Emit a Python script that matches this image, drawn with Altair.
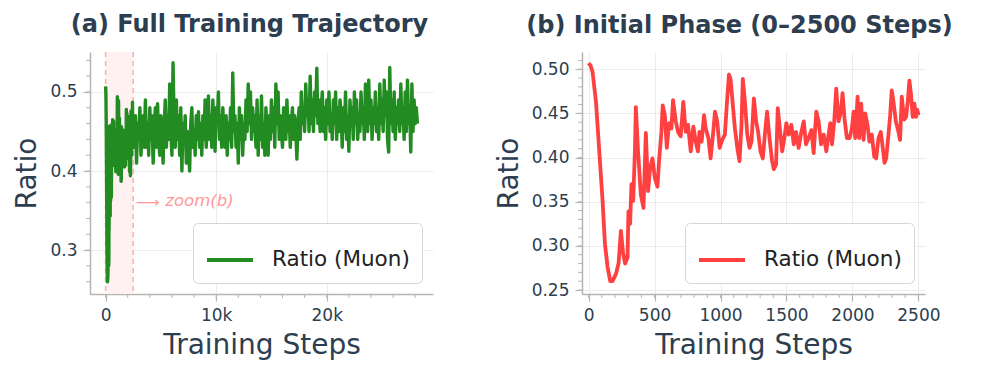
import altair as alt
import pandas as pd

# ---------------- data ----------------
series_name = "Ratio (Muon)"

# Panel (b): initial phase, 0-2500 steps
steps_b = [
    0, 15, 30, 56, 81, 106, 124, 144, 164, 181,
    207, 227, 245, 262, 277, 295, 302, 315, 325, 338,
    351, 358, 375, 396, 416, 434, 451, 466, 484, 502,
    522, 534, 552, 562, 578, 593, 610, 628, 640, 661,
    678, 698, 718, 736, 754, 774, 794, 812, 829, 840,
    857, 875, 888, 908, 925, 943, 958, 975, 993, 1013,
    1033, 1051, 1064, 1076, 1089, 1109, 1127, 1144, 1159, 1169,
    1185, 1203, 1220, 1235, 1253, 1270, 1285, 1303, 1321, 1336,
    1353, 1371, 1391, 1404, 1421, 1434, 1447, 1467, 1484, 1499,
    1517, 1537, 1555, 1572, 1592, 1613, 1631, 1648, 1668, 1689,
    1706, 1726, 1744, 1762, 1782, 1802, 1819, 1832, 1845, 1862,
    1877, 1895, 1913, 1925, 1940, 1958, 1978, 1996, 2009, 2021,
    2039, 2051, 2066, 2084, 2097, 2114, 2129, 2147, 2165, 2180,
    2197, 2215, 2230, 2243, 2256, 2273, 2286, 2298, 2311, 2329,
    2349, 2361, 2374, 2392, 2407, 2419, 2432, 2444, 2457, 2470,
    2482, 2492, 2500,
]
ratio_b = [
    0.507, 0.504, 0.497, 0.463, 0.407, 0.351, 0.302, 0.276, 0.260, 0.260,
    0.268, 0.280, 0.317, 0.291, 0.280, 0.287, 0.339, 0.325, 0.370, 0.351,
    0.407, 0.457, 0.407, 0.358, 0.343, 0.428, 0.362, 0.388, 0.399, 0.377,
    0.367, 0.396, 0.429, 0.459, 0.448, 0.411, 0.439, 0.433, 0.465, 0.441,
    0.429, 0.424, 0.463, 0.429, 0.437, 0.407, 0.435, 0.418, 0.407, 0.429,
    0.418, 0.448, 0.433, 0.422, 0.399, 0.426, 0.452, 0.441, 0.411, 0.420,
    0.426, 0.467, 0.494, 0.489, 0.467, 0.433, 0.411, 0.396, 0.437, 0.489,
    0.463, 0.426, 0.411, 0.418, 0.467, 0.441, 0.429, 0.407, 0.399, 0.426,
    0.452, 0.422, 0.396, 0.387, 0.392, 0.456, 0.437, 0.407, 0.422, 0.439,
    0.426, 0.437, 0.415, 0.429, 0.411, 0.429, 0.441, 0.415, 0.422, 0.431,
    0.405, 0.452, 0.441, 0.415, 0.426, 0.407, 0.426, 0.439, 0.415, 0.441,
    0.478, 0.441, 0.452, 0.473, 0.444, 0.422, 0.422, 0.433, 0.452, 0.422,
    0.469, 0.422, 0.461, 0.420, 0.450, 0.437, 0.418, 0.426, 0.401, 0.399,
    0.422, 0.429, 0.411, 0.394, 0.399, 0.426, 0.448, 0.476, 0.463, 0.441,
    0.429, 0.420, 0.469, 0.443, 0.446, 0.463, 0.487, 0.471, 0.446, 0.461,
    0.446, 0.454, 0.448,
]

# Panel (a): remainder of the run, every 100 steps from 2600 to 28200
late_steps = list(range(2600, 28300, 100))
late_ratio = [
    0.43, 0.47, 0.41, 0.46, 0.44, 0.48, 0.42, 0.45, 0.47, 0.43,
    0.49, 0.43, 0.46, 0.42, 0.48, 0.44, 0.47, 0.41, 0.45, 0.48,
    0.43, 0.485, 0.44, 0.42, 0.47, 0.45, 0.41, 0.46, 0.49, 0.43,
    0.47, 0.44, 0.51, 0.45, 0.42, 0.537, 0.46, 0.43, 0.49, 0.44,
    0.47, 0.42, 0.48, 0.40, 0.46, 0.44, 0.47, 0.41, 0.45, 0.43,
    0.40, 0.46, 0.48, 0.43, 0.45, 0.42, 0.47, 0.44, 0.475, 0.43,
    0.46, 0.42, 0.47, 0.44, 0.49, 0.43, 0.46, 0.495, 0.44, 0.47,
    0.43, 0.49, 0.45, 0.425, 0.48, 0.46, 0.50, 0.44, 0.47, 0.43,
    0.48, 0.45, 0.43, 0.47, 0.42, 0.46, 0.44, 0.48, 0.43, 0.524,
    0.45, 0.47, 0.43, 0.46, 0.41, 0.48, 0.44, 0.47, 0.42, 0.46,
    0.44, 0.49, 0.45, 0.51, 0.46, 0.50, 0.44, 0.48, 0.45, 0.47,
    0.43, 0.49, 0.42, 0.47, 0.44, 0.495, 0.43, 0.46, 0.42, 0.48,
    0.45, 0.42, 0.47, 0.44, 0.49, 0.45, 0.48, 0.43, 0.51, 0.46,
    0.50, 0.44, 0.47, 0.45, 0.43, 0.48, 0.46, 0.44, 0.49, 0.45,
    0.47, 0.43, 0.46, 0.48, 0.44, 0.47, 0.45, 0.415, 0.46, 0.48,
    0.44, 0.50, 0.46, 0.48, 0.45, 0.51, 0.47, 0.49, 0.45, 0.52,
    0.46, 0.49, 0.45, 0.50, 0.47, 0.53, 0.46, 0.49, 0.45, 0.48,
    0.50, 0.45, 0.48, 0.44, 0.49, 0.46, 0.50, 0.45, 0.47, 0.44,
    0.49, 0.46, 0.50, 0.44, 0.48, 0.45, 0.49, 0.47, 0.43, 0.48,
    0.45, 0.50, 0.44, 0.47, 0.425, 0.49, 0.46, 0.48, 0.44, 0.50,
    0.46, 0.49, 0.44, 0.47, 0.45, 0.50, 0.46, 0.48, 0.44, 0.51,
    0.47, 0.45, 0.515, 0.46, 0.49, 0.44, 0.48, 0.46, 0.50, 0.45,
    0.48, 0.44, 0.51, 0.46, 0.49, 0.45, 0.515, 0.47, 0.50, 0.44,
    0.424, 0.531, 0.46, 0.49, 0.45, 0.50, 0.44, 0.48, 0.46, 0.49,
    0.45, 0.51, 0.46, 0.48, 0.44, 0.50, 0.45, 0.515, 0.46, 0.48,
    0.424, 0.51, 0.45, 0.49, 0.46, 0.48, 0.46,
]

zoom_window = [0, 2500]
annotation_text = ["zoom(b)"]

x_ticks_a = [0, 10000, 20000]
y_ticks_a = [0.3, 0.4, 0.5]
x_ticks_b = [0, 500, 1000, 1500, 2000, 2500]
y_ticks_b = [0.25, 0.30, 0.35, 0.40, 0.45, 0.50]
x_minor_a = [0, 2000, 4000, 6000, 8000, 10000, 12000, 14000, 16000, 18000,
             20000, 22000, 24000, 26000, 28000]
y_minor_a = [0.26, 0.28, 0.30, 0.32, 0.34, 0.36, 0.38, 0.40, 0.42, 0.44,
             0.46, 0.48, 0.50, 0.52, 0.54]
x_minor_b = [0, 100, 200, 300, 400, 500, 600, 700, 800, 900, 1000, 1100, 1200,
             1300, 1400, 1500, 1600, 1700, 1800, 1900, 2000, 2100, 2200, 2300,
             2400, 2500]
y_minor_b = [0.25, 0.26, 0.27, 0.28, 0.29, 0.30, 0.31, 0.32, 0.33, 0.34, 0.35,
             0.36, 0.37, 0.38, 0.39, 0.40, 0.41, 0.42, 0.43, 0.44, 0.45, 0.46,
             0.47, 0.48, 0.49, 0.50, 0.51]

# ---------------- tables ----------------
df_b = pd.DataFrame({"step": steps_b, "ratio": ratio_b, "series": series_name})
df_a = pd.DataFrame({"step": steps_b + late_steps,
                     "ratio": ratio_b + late_ratio, "series": series_name})
df_band = pd.DataFrame({"step": [zoom_window[0]], "step_end": [zoom_window[1]]})
df_vlines = pd.DataFrame({"step": zoom_window})
df_arrow = pd.DataFrame({"step": [2800], "step_end": [4750], "ratio": [0.36]})
df_note = pd.DataFrame({"step": [5400], "ratio": [0.362], "label": annotation_text})

# ---------------- styling ----------------
W, H = 343, 242
TXT = "#2c3e50"
GRAY = "#b5b5b5"
ANN = "#ff9797"
FONT = "DejaVu Sans"

xa = alt.Scale(domain=[-1410, 29610], nice=False, zero=False)
ya = alt.Scale(domain=[0.2445, 0.5505], nice=False, zero=False)
xb = alt.Scale(domain=[-50, 2550], nice=False, zero=False)
yb = alt.Scale(domain=[0.2455, 0.5195], nice=False, zero=False)

ax_xa = alt.Axis(values=x_ticks_a, title="Training Steps",
                 labelExpr="datum.value == 0 ? '0' : format(datum.value / 1000, 'd') + 'k'")
ax_ya = alt.Axis(values=y_ticks_a, format=".1f", title="Ratio")
ax_xb = alt.Axis(values=x_ticks_b, format="d", title="Training Steps")
ax_yb = alt.Axis(values=y_ticks_b, format=".2f", title="Ratio")


def make_legend():
    return alt.Legend(title=None, orient="bottom-right", offset=11, padding=12,
                      strokeColor="#d6d6d6", cornerRadius=5, fillColor="white",
                      symbolType="stroke", symbolSize=2116, symbolStrokeWidth=4,
                      labelFontSize=21.5, labelFont=FONT, labelColor="#222222",
                      labelOffset=17, labelLimit=400)


def minor_ticks(xs, ys, xscale, yscale, xaxis, yaxis):
    mx = alt.Chart(pd.DataFrame({"step": xs})).mark_rule(color=GRAY, strokeWidth=1).encode(
        x=alt.X("step:Q", scale=xscale, axis=xaxis),
        y=alt.value(H), y2=alt.value(H + 4))
    my = alt.Chart(pd.DataFrame({"ratio": ys})).mark_rule(color=GRAY, strokeWidth=1).encode(
        y=alt.Y("ratio:Q", scale=yscale, axis=yaxis),
        x=alt.value(-4), x2=alt.value(0))
    return mx, my


def title(text, size, dx=0):
    return alt.TitleParams(text=text, font=FONT, fontSize=size, fontWeight="bold",
                           color=TXT, anchor="middle", offset=14, dx=dx)


# ---- panel (a)
band = alt.Chart(df_band).mark_rect(color="#fff1f1").encode(
    x=alt.X("step:Q", scale=xa, axis=ax_xa), x2="step_end:Q",
    y=alt.value(0), y2=alt.value(H))
vlines = alt.Chart(df_vlines).mark_rule(color="#ffb0b0", strokeDash=[5, 4], strokeWidth=1.6).encode(
    x=alt.X("step:Q", scale=xa, axis=ax_xa))
line_a = alt.Chart(df_a).mark_line(strokeWidth=3.4, strokeJoin="round").encode(
    x=alt.X("step:Q", scale=xa, axis=ax_xa),
    y=alt.Y("ratio:Q", scale=ya, axis=ax_ya),
    color=alt.Color("series:N", scale=alt.Scale(range=["#228b22"]), legend=make_legend()))
arrow = alt.Chart(df_arrow).mark_rule(color=ANN, strokeWidth=1.3).encode(
    x=alt.X("step:Q", scale=xa, axis=ax_xa), x2="step_end:Q",
    y=alt.Y("ratio:Q", scale=ya, axis=ax_ya))
arrow_head = alt.Chart(df_arrow).mark_point(shape="M -1 -1 L 0 0 L -1 1", filled=False,
                                            color=ANN, size=30, strokeWidth=1.3, opacity=1).encode(
    x=alt.X("step_end:Q", scale=xa, axis=ax_xa),
    y=alt.Y("ratio:Q", scale=ya, axis=ax_ya))
note = alt.Chart(df_note).mark_text(align="left", baseline="middle", font=FONT,
                                    fontStyle="italic", fontSize=16.5, color=ANN).encode(
    x=alt.X("step:Q", scale=xa, axis=ax_xa),
    y=alt.Y("ratio:Q", scale=ya, axis=ax_ya),
    text="label:N")
mxa, mya = minor_ticks(x_minor_a, y_minor_a, xa, ya, ax_xa, ax_ya)

panel_a = alt.layer(band, vlines, line_a, arrow, arrow_head, note, mxa, mya).properties(
    width=W, height=H, title=title("(a) Full Training Trajectory", 24, dx=-12))

# ---- panel (b)
line_b = alt.Chart(df_b).mark_line(strokeWidth=3.8, strokeJoin="round").encode(
    x=alt.X("step:Q", scale=xb, axis=ax_xb),
    y=alt.Y("ratio:Q", scale=yb, axis=ax_yb),
    color=alt.Color("series:N", scale=alt.Scale(range=["#ff4040"]), legend=make_legend()))
mxb, myb = minor_ticks(x_minor_b, y_minor_b, xb, yb, ax_xb, ax_yb)
panel_b = alt.layer(line_b, mxb, myb).properties(
    width=W, height=H, title=title("(b) Initial Phase (0\u20132500 Steps)", 24, dx=-14))

chart = alt.hconcat(panel_a, panel_b, spacing=62).resolve_scale(
    color="independent"
).configure_view(stroke=None).configure_axis(
    labelFont=FONT, labelFontSize=17, labelColor=TXT, labelPadding=6,
    titleFont=FONT, titleFontSize=28, titleFontWeight="normal", titleColor=TXT,
    titlePadding=8,
    domainColor=GRAY, domainWidth=1.5, tickColor=GRAY, tickWidth=1.2, tickSize=7,
    gridColor="#ececec", gridWidth=1,
)

chart.save("out.html", embed_options={"renderer": "svg", "actions": False})
